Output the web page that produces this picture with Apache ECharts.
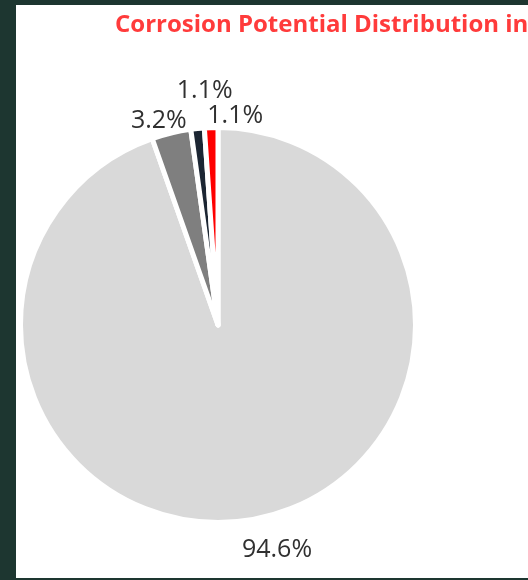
<!DOCTYPE html>
<html>
<head>
<meta charset="utf-8">
<script src="https://cdn.jsdelivr.net/npm/echarts@6/dist/echarts.min.js"></script>
<style>
  html, body { margin: 0; padding: 0; width: 528px; height: 580px; background: #1d3630; overflow: hidden; }
  #panel { position: absolute; left: 16px; top: 5px; width: 512px; height: 573px; background: #ffffff; }
  #chart { width: 512px; height: 573px; }
</style>
</head>
<body>
<div id="panel"><div id="chart"></div></div>
<script>
const titleText = "Corrosion Potential Distribution in";
const categories = ["Low", "Intermediate", "High", "Severe"];
const shares = [94.6, 3.2, 1.1, 1.1];
const sliceColors = ["#d9d9d9", "#7f7f7f", "#1c2633", "#ff0000"];

// layout / style settings (not data)
const CX = 202, CY = 320, R = 197.5;
const LABEL_DIST = 225;
// Excel-style collision nudges for crowded labels [dx, dy]
const labelNudges = [[21, 3], [-6, 14], [10, -10], [25, 16]];

const total = shares.reduce((a, b) => a + b, 0);
function midAngle(i) {
  let before = 0;
  for (let k = 0; k < i; k++) before += shares[k];
  return (before + shares[i] / 2) / total * 2 * Math.PI; // clockwise from 12 o'clock
}

const chart = echarts.init(document.getElementById('chart'), null, { renderer: 'canvas' });
chart.setOption({
  animation: false,
  title: {
    text: titleText,
    left: 94,
    top: 3,
    textStyle: { color: '#ff3b3b', fontFamily: 'Open Sans', fontWeight: 'bold', fontSize: 24 }
  },
  series: [{
    type: 'pie',
    center: [CX, CY],
    radius: R,
    startAngle: 90,
    clockwise: true,
    avoidLabelOverlap: false,
    itemStyle: { borderColor: '#ffffff', borderWidth: 5, borderJoin: 'round' },
    label: {
      show: true,
      position: 'outside',
      formatter: p => p.value.toFixed(1) + '%',
      fontFamily: 'Open Sans',
      fontSize: 25,
      color: '#303030'
    },
    labelLine: { show: false },
    labelLayout: params => {
      const i = params.dataIndex;
      const a = midAngle(i);
      return {
        x: CX + LABEL_DIST * Math.sin(a) + labelNudges[i][0],
        y: CY - LABEL_DIST * Math.cos(a) + labelNudges[i][1],
        align: 'center',
        verticalAlign: 'middle'
      };
    },
    emphasis: { disabled: true },
    data: categories.map((c, i) => ({ name: c, value: shares[i], itemStyle: { color: sliceColors[i] } }))
  }]
});
</script>
</body>
</html>
